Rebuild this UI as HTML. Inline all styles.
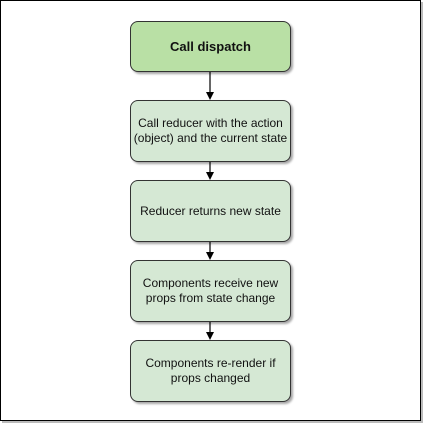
<!DOCTYPE html>
<html><head><style>
html,body{margin:0;padding:0;background:#fff;}
body{width:423px;height:424px;position:relative;overflow:hidden;font-family:"Liberation Sans",Arial,sans-serif;}
.frame{position:absolute;left:0;top:0;width:419px;height:419px;border:1px solid #000;background:#fff;box-shadow:2px 2px 0 #bbb;}
.box{position:absolute;left:130px;width:159px;border:1px solid #333;border-radius:8px;background:#d5e8d4;box-shadow:2px 2px 2px rgba(0,0,0,0.35);display:flex;align-items:center;justify-content:center;text-align:center;font-size:12px;line-height:15px;color:#111;box-sizing:content-box;white-space:nowrap;}
</style></head><body>
<div class="frame"></div>
<svg width="423" height="424" style="position:absolute;left:0;top:0">
<g stroke="#000" stroke-width="1.2" fill="#000">
<line x1="210" y1="72" x2="210" y2="94"/><polygon points="206,92 214,92 210,100" stroke="none"/>
<line x1="210" y1="162" x2="210" y2="174"/><polygon points="206,172 214,172 210,180" stroke="none"/>
<line x1="210" y1="242" x2="210" y2="254"/><polygon points="206,252 214,252 210,260" stroke="none"/>
<line x1="210" y1="322" x2="210" y2="334"/><polygon points="206,332 214,332 210,340" stroke="none"/>
</g></svg>
<div class="box" style="top:21px;height:49px;background:#b9e0a5;font-weight:bold;font-size:13px">Call dispatch</div>
<div class="box" style="top:100px;height:60px">Call reducer with the action<br>(object) and the current state</div>
<div class="box" style="top:180px;height:60px">Reducer returns new state</div>
<div class="box" style="top:260px;height:60px">Components receive new<br>props from state change</div>
<div class="box" style="top:340px;height:60px">Components re-render if<br>props changed</div>
</body></html>
